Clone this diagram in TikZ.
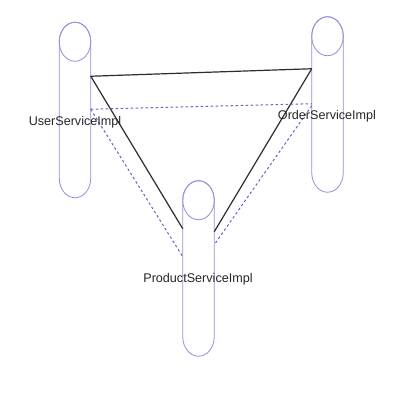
\documentclass[tikz,border=0pt]{standalone}
\usepackage{fontspec}
\setmainfont{Liberation Sans}
\usetikzlibrary{calc}
\definecolor{cylc}{RGB}{145,145,215}
\definecolor{dashc}{RGB}{100,100,200}
\definecolor{linec}{RGB}{45,45,45}
\tikzset{
  x=1pt,y=1pt,
  cylbox/.style={inner sep=0pt,outer sep=0pt,minimum width=31.5pt,minimum height=175.5pt},
  cylline/.style={draw=cylc,line width=0.8pt},
  solidlink/.style={draw=linec,line width=1.2pt},
  dashlink/.style={draw=dashc,line width=1pt,dash pattern=on 2.5pt off 2.5pt},
  lbl/.style={inner sep=0pt,font=\fontsize{12.6}{14}\selectfont,text=black!85}
}
\newcommand{\drawcyl}[1]{%
  \draw[cylline] ($(#1.north west)+(0,-19.5)$) -- ($(#1.south west)+(0,19.5)$)
    arc[start angle=180,end angle=360,x radius=15.75,y radius=19.5]
    -- ($(#1.north east)+(0,-19.5)$)
    arc[start angle=0,end angle=180,x radius=15.75,y radius=19.5];
  \draw[cylline] ($(#1.north)+(0,-19.5)$) ellipse[x radius=15.75,y radius=19.5];
}
\begin{document}
\begin{tikzpicture}
\useasboundingbox (0,0) rectangle (413,404);
\fill[white] (0,0) rectangle (413,404);
\node[cylbox] (u) at (75,294) {};
\node[cylbox] (o) at (327.5,299.5) {};
\node[cylbox] (p) at (198.5,135.5) {};
\drawcyl{u}
\drawcyl{o}
\drawcyl{p}
% solid links
\draw[solidlink] ([yshift=-54]u.north east) -- ([yshift=-52]o.north west);
\draw[solidlink] ([yshift=-54]u.north east) -- ([yshift=-48]p.north west);
\draw[solidlink] ([yshift=-52]o.north west) -- ([yshift=-51]p.north east);
% dashed links
\draw[dashlink] ([yshift=-87]u.north east) -- ([yshift=-87]o.north west);
\draw[dashlink] ([yshift=-87]u.north east) -- ([yshift=-76]p.north west);
\draw[dashlink] ([yshift=-89]o.north west) -- ([yshift=-64]p.north east);
% labels
\node[lbl] (ul) at (75,282) {UserServiceImpl};
\node[lbl] (ol) at (327,288) {OrderServiceImpl};
\node[lbl] (pl) at (198,125) {ProductServiceImpl};
\end{tikzpicture}
\end{document}
